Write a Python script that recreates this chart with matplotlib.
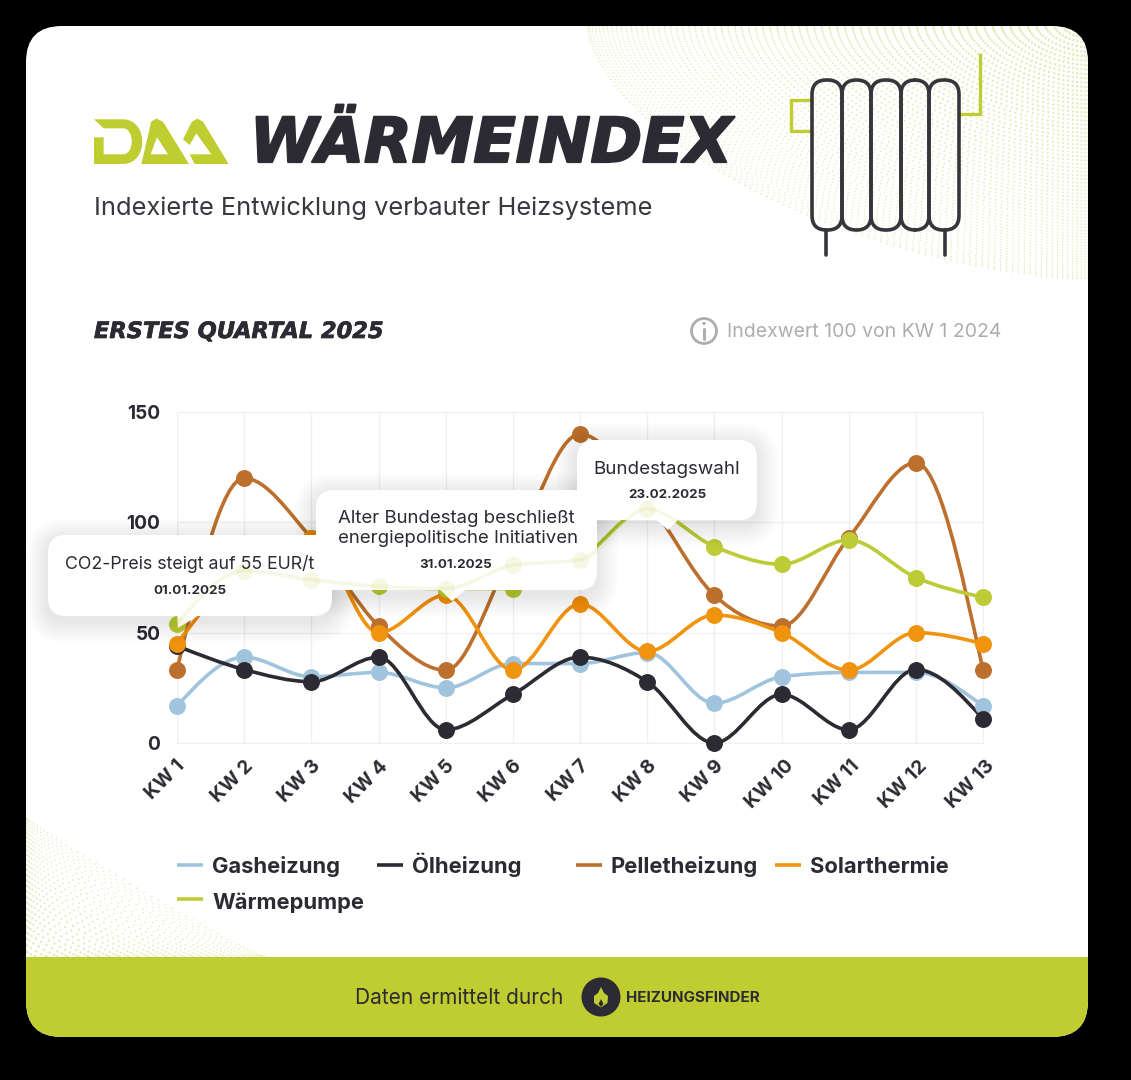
#!/usr/bin/env python3
# -*- coding: utf-8 -*-
"""DAA Wärmeindex, erstes Quartal 2025 -> out.png"""
import numpy as np
import matplotlib
matplotlib.use('Agg')
import matplotlib.pyplot as plt
import matplotlib.patheffects as pe
from matplotlib.patches import FancyBboxPatch, PathPatch, Polygon, Circle, Rectangle
from matplotlib.path import Path
from matplotlib.transforms import ScaledTranslation

weeks = ['KW 1', 'KW 2', 'KW 3', 'KW 4', 'KW 5', 'KW 6', 'KW 7', 'KW 8', 'KW 9', 'KW 10', 'KW 11', 'KW 12', 'KW 13']
gas = [16.7, 38.9, 30, 32, 25, 36, 36, 41, 18, 30, 32, 32, 16.7]
oel = [44, 33.3, 27.8, 38.9, 6, 22, 38.9, 27.8, 0, 22, 6, 33.3, 11]
pellet = [33, 120, 93, 53, 33, 87, 140, 110, 67, 53, 93, 127, 33]
solar = [45, 80, 93, 50, 67, 33, 63, 41.5, 58, 50, 33, 50, 45]
waerme = [54, 78, 74, 71, 70, 70, 83, 106, 89, 81, 92, 75, 66]
# die Wärmepumpe scheint blass über den Hinweisboxen durch, in KW 6 mit anderem Wert
waerme_blass = [54, 78, 74, 71, 70, 80.5, 83, 106, 89, 81, 92, 75, 66]
y_ticks = [0, 50, 100, 150]
series_names = ['Gasheizung', 'Ölheizung', 'Pelletheizung', 'Solarthermie', 'Wärmepumpe']
notes = ['CO2-Preis steigt auf 55 EUR/t', 'Alter Bundestag beschließt\nenergiepolitische Initiativen', 'Bundestagswahl']
note_dates = ['01.01.2025', '31.01.2025', '23.02.2025']

DARK = '#2c2a32'
LIME = '#bfcd31'
GREY = '#adadad'
COLORS = ['#a0c4dd', DARK, '#bd6f2d', '#f0930e', '#bccb36']
FONT = 'Inter'
W, H = 1131, 1080


def monotone_path(xs, ys):
    # monotone Kubik als Bezier, Tangenten wie d3 curveMonotoneX
    xs, ys = np.asarray(xs, float), np.asarray(ys, float)
    h = np.diff(xs)
    s = np.diff(ys) / h
    m = np.zeros(len(xs))
    for i in range(1, len(xs) - 1):
        p = (s[i - 1] * h[i] + s[i] * h[i - 1]) / (h[i - 1] + h[i])
        m[i] = (np.sign(s[i - 1]) + np.sign(s[i])) * min(abs(s[i - 1]), abs(s[i]), 0.5 * abs(p))
    m[0] = (3 * s[0] - m[1]) / 2
    m[-1] = (3 * s[-1] - m[-2]) / 2
    verts, codes = [(xs[0], ys[0])], [Path.MOVETO]
    for i in range(len(h)):
        d = h[i] / 3
        verts += [(xs[i] + d, ys[i] + m[i] * d), (xs[i + 1] - d, ys[i + 1] - m[i + 1] * d), (xs[i + 1], ys[i + 1])]
        codes += [Path.CURVE4] * 3
    return Path(verts, codes)


def halftone(ax, cx, cy, a, b, dirx, q, rings, spokes, clip):
    # Punktraster: Ringe werden zum Rand hin dichter
    px, py, sz = [], [], []
    for k in range(rings):
        r = 0.995 - (k / rings) ** 1.3
        if r <= 0:
            continue
        n = max(5, int(spokes * r ** 0.8))
        t = np.linspace(0, np.pi / 2, n)
        px.append(cx + dirx * a * r * np.cos(t) ** q)
        py.append(cy + b * r * np.sin(t) ** q * (1 if dirx < 0 else -1))
        sz.append(np.full(n, (1.3 + 1.5 * (1 - r)) * 0.72) ** 2)
    sc = ax.scatter(np.concatenate(px), np.concatenate(py), s=np.concatenate(sz), color='#e6ebbf', linewidths=0, zorder=1)
    sc.set_clip_path(clip)


fig = plt.figure(figsize=(W / 100, H / 100), dpi=100, facecolor='black')
bg = fig.add_axes([0, 0, 1, 1], zorder=0)
bg.set_xlim(0, W); bg.set_ylim(H, 0); bg.axis('off')

card = FancyBboxPatch((26, 26), 1062, 1011, boxstyle='round,pad=0,rounding_size=36', fc='white', ec='none', zorder=0)
bg.add_patch(card)
halftone(bg, 1088, 26, 503, 254, -1, 1.2, 72, 115, card)
halftone(bg, 26, 957, 240, 140, 1, 2.1, 28, 55, card)
footer = Rectangle((26, 957), 1062, 80, fc=LIME, ec='none', zorder=2)
bg.add_patch(footer)
footer.set_clip_path(card)

# Logo DAA
def logo_pts(pts):
    return [(88 + x / 3, 110 + y / 3) for x, y in pts]

d_verts = logo_pts([(18, 162), (18, 82), (47, 82), (47, 133), (105, 133), (140, 133), (140, 55), (105, 55), (47, 55),
                    (18, 28), (105, 28), (182, 28), (182, 162), (105, 162), (18, 162)])
d_codes = [Path.MOVETO, Path.LINETO, Path.LINETO, Path.LINETO, Path.LINETO, Path.CURVE4, Path.CURVE4, Path.CURVE4,
           Path.LINETO, Path.LINETO, Path.LINETO, Path.CURVE4, Path.CURVE4, Path.CURVE4, Path.CLOSEPOLY]
bg.add_patch(PathPatch(Path(d_verts, d_codes), fc=LIME, ec='none', zorder=3))
bg.add_patch(Polygon(logo_pts([(160, 162), (190, 34), (205, 26), (225, 35), (303, 162)]), fc=LIME, ec='none', zorder=3))
bg.add_patch(Polygon(logo_pts([(207, 82), (240, 133), (188, 133)]), fc='white', ec='none', zorder=3))
bg.add_patch(Polygon(logo_pts([(285, 88), (312, 35), (328, 26), (345, 35), (422, 162), (320, 162), (305, 133), (370, 133),
                               (325, 70), (305, 105)]), fc=LIME, ec='none', zorder=3))

title = bg.text(250, 145, 'WÄRMEINDEX', family='DejaVu Sans', weight='bold', style='oblique', fontsize=44.6, color=DARK, va='center', ha='left', zorder=5)
title.set_path_effects([pe.withStroke(linewidth=1.6, foreground=DARK)])
bg.text(94, 208, 'Indexierte Entwicklung verbauter Heizsysteme', family=FONT, fontsize=18.3, color='#3a383e', va='center', zorder=5)
head = bg.text(94, 332, 'ERSTES QUARTAL 2025', family='DejaVu Sans', weight='bold', style='oblique', fontsize=16.2, color=DARK, va='center', zorder=5)
head.set_path_effects([pe.withStroke(linewidth=0.5, foreground=DARK)])
bg.text(727, 332, 'Indexwert 100 von KW 1 2024', family=FONT, fontsize=14, color=GREY, va='center', zorder=5)
bg.add_patch(Circle((704, 331), 12.5, fc='none', ec=GREY, lw=2, zorder=5))
bg.plot([704, 704], [329, 339], color=GREY, lw=2.2, solid_capstyle='round', zorder=5)
bg.add_patch(Circle((704, 323.5), 1.7, fc=GREY, ec='none', zorder=5))

# Heizkörper
for x0, x1 in [(812, 842), (842, 871), (871, 901), (901, 929), (929, 959)]:
    bg.add_patch(FancyBboxPatch((x0, 80), x1 - x0, 150, boxstyle='round,pad=0,rounding_size=14.5', fc='none', ec='#37353a', lw=2.6, zorder=5))
bg.plot([825.5, 825.5], [230, 255], color='#37353a', lw=2.6, solid_capstyle='round', zorder=5)
bg.plot([945, 945], [230, 255], color='#37353a', lw=2.6, solid_capstyle='round', zorder=5)
bg.plot([811, 791, 791, 811], [100, 100, 131, 131], color=LIME, lw=2.4, solid_joinstyle='miter', zorder=4)
bg.plot([960, 980, 980], [114, 114, 55], color=LIME, lw=2.4, solid_joinstyle='miter', zorder=4)

# Fußzeile
bg.text(355, 998, 'Daten ermittelt durch', family=FONT, fontsize=15, color=DARK, va='center', zorder=5)
bg.add_patch(Circle((601, 997), 19.5, fc=DARK, ec='none', zorder=5))
flame = [(601, 987), (604, 993), (608, 996), (607.5, 1003), (601, 1007.5), (594, 1003), (594, 996), (598, 993)]
bg.add_patch(Polygon(flame, fc=LIME, ec='none', zorder=6))
bg.add_patch(Polygon([(601, 999), (603.5, 1004), (601, 1007), (598.5, 1004)], fc=DARK, ec='none', zorder=7))
bg.text(626, 998, 'HEIZUNGSFINDER', family=FONT, weight='bold', fontsize=10.9, color=DARK, va='center', zorder=5)

# Legende
legend_x = [177, 377, 576, 775, 177]
legend_y = [865, 865, 865, 865, 899]
legend_base = [873, 873, 873, 873, 909]
for name, col, lx, ly, lb in zip(series_names, COLORS, legend_x, legend_y, legend_base):
    bg.plot([lx, lx + 26], [ly, ly], color=col, lw=2.6, solid_capstyle='butt', zorder=5)
    bg.text(lx + 35, lb, name, family=FONT, weight='bold', fontsize=15.8, color=DARK, va='baseline', zorder=5)

# Diagramm
ax = fig.add_axes([177 / W, 1 - 743 / H, 806 / W, 331 / H], zorder=1)
ax.patch.set_alpha(0)
x = np.arange(len(weeks))
ax.set_xlim(0, len(weeks) - 1)
ax.set_ylim(0, 150)
ax.set_yticks(y_ticks)
ax.set_xticks(x)
ax.set_xticklabels(weeks, rotation=45, ha='center', va='top', family=FONT, weight='bold', fontsize=14, color=DARK)
ax.set_yticklabels([str(t) for t in y_ticks], family=FONT, weight='bold', fontsize=13.7, color=DARK)
ax.tick_params(axis='x', length=0, pad=10)
ax.tick_params(axis='y', length=0, pad=12)
shift = ScaledTranslation(-12 / 100, 0, fig.dpi_scale_trans)
for lab in ax.get_xticklabels():
    lab.set_transform(lab.get_transform() + shift)
ax.grid(True, color='#f0f0f0', lw=1)
ax.set_axisbelow(True)
for sp in ax.spines.values():
    sp.set_color('#f0f0f0')

all_series = [gas, oel, pellet, solar, waerme]
for vals, col in zip(all_series, COLORS):
    ax.add_patch(PathPatch(monotone_path(x, vals), fc='none', ec=col, lw=2.6, clip_on=False, zorder=3))
for vals, col in zip(all_series, COLORS):
    ax.plot(x, vals, ls='none', marker='o', ms=12.2, mfc=col, mec='none', clip_on=False, zorder=4)

# Hinweisboxen
boxes = [(48, 535, 284, 81), (316, 490, 281, 100), (577, 440, 180, 80)]
tails = [[(177, 612), (204, 612), (178, 628)], [(436, 586), (470, 586), (452, 601)], [(652, 516), (682, 516), (668, 530)]]
for (bx, by, bw, bh), tail in zip(boxes, tails):
    for g in range(12, 0, -1):
        ax.add_patch(FancyBboxPatch((bx - g * 1.8, by + 5 - g * 1.8), bw + g * 3.6, bh + g * 3.6,
                                    boxstyle='round,pad=0,rounding_size=%.1f' % (18 + g * 1.8), fc='black', ec='none', alpha=0.008,
                                    transform=bg.transData, clip_on=False, zorder=9))
    ax.add_patch(FancyBboxPatch((bx, by), bw, bh, boxstyle='round,pad=0,rounding_size=18', fc='white', ec='none',
                                transform=bg.transData, clip_on=False, zorder=10))
    ax.add_patch(Polygon(tail, fc='white', ec='none', transform=bg.transData, clip_on=False, zorder=10))

ax.add_patch(PathPatch(monotone_path(x, waerme_blass), fc='none', ec=COLORS[4], lw=2.6, alpha=0.13, clip_on=False, zorder=11))
ax.plot(x, waerme_blass, ls='none', marker='o', ms=12.2, mfc=COLORS[4], mec='none', alpha=0.13, clip_on=False, zorder=11)

note_pos = [(190, 564), (338, 528.5), (667, 469)]
date_pos = [(190, 591), (456, 565), (667, 495)]
note_size = [12.8, 13.4, 13.5]
for i, (txt, dat) in enumerate(zip(notes, note_dates)):
    ha = 'left' if i == 1 else 'center'
    ax.text(*note_pos[i], txt, family=FONT, fontsize=note_size[i], color=DARK, ha=ha, va='center', linespacing=1.22,
            transform=bg.transData, clip_on=False, zorder=12)
    ax.text(*date_pos[i], dat, family=FONT, weight='bold', fontsize=9.6, color=DARK, ha='center', va='center',
            transform=bg.transData, clip_on=False, zorder=12)

fig.savefig('out.png', dpi=100, facecolor='black')
